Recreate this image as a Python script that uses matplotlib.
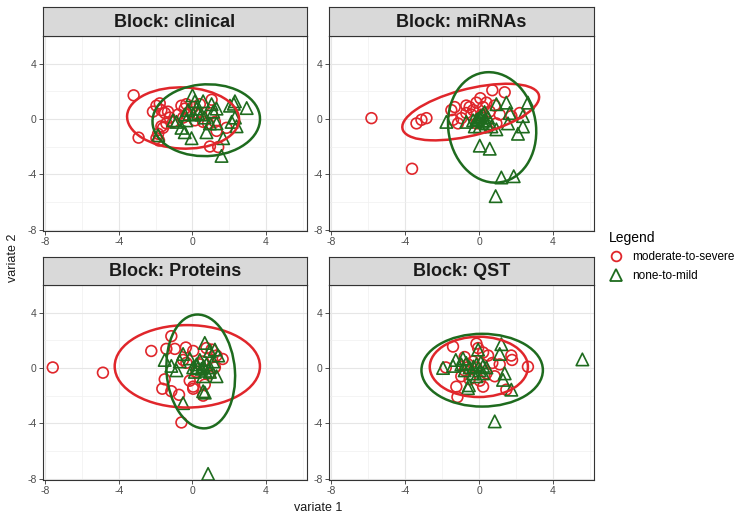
import matplotlib
matplotlib.use("Agg")
import matplotlib.pyplot as plt
from matplotlib.patches import Ellipse
from matplotlib.lines import Line2D

plt.rcParams['font.family'] = ['Liberation Sans', 'DejaVu Sans']
plt.rcParams['axes.unicode_minus'] = False

blocks = ["clinical", "miRNAs", "Proteins", "QST"]
groups = ["moderate-to-severe", "none-to-mild"]

# ---- data: (variate 1, variate 2) per block and group ----
clin_red_x = [-3.2, -2.93, -2.15, -1.96, -1.78, -1.69, -1.5, -1.33, -1.24, -1.42, -1.6, -1.87, -1.96, -1.82, -1.69, -1.05, -0.78, -0.6, -0.42, -0.33, -0.15, 0.04, 0.22, 0.4, 0.13, 0.58, 0.85, 1.04, 1.04, 1.22, 1.31, 0.95, 1.4, 1.85, -0.33, -0.51]
clin_red_y = [1.71, -1.35, 0.53, 0.96, 1.13, 0.64, 0.43, 0.53, 0.1, -0.32, -0.64, -1.07, -1.39, -1.56, -0.53, -0.21, 0.32, 0.96, 0.75, 0.32, 0.53, 0.86, 0.43, 1.07, -0.1, -0.21, -0.32, 1.39, 0.43, -0.21, -0.86, -1.99, -2.03, -0.64, 1.07, 0.1]
clin_grn_x = [0.0, 0.58, 1.04, 1.13, 1.31, 2.04, 2.31, 2.25, 2.95, 2.31, 2.4, 2.13, 1.67, 1.58, 0.76, -0.05, -0.42, -0.6, -0.87, -1.05, -0.33, 0.04, 0.31, 0.67, 0.95, 1.31, -0.24, -0.42, 0.22, 0.49, -1.87, 0.13]
clin_grn_y = [1.71, 1.28, 1.07, 0.53, 0.75, 0.96, 1.28, 1.1, 0.79, 0.1, -0.53, -0.21, -1.39, -2.67, -0.96, -1.39, -0.96, -0.64, -0.21, -0.1, -0.1, 0.32, 0.43, 0.1, -0.32, -0.32, 0.64, 0.32, 0.75, 0.32, -1.18, 1.28]

mir_red_x = [-5.83, -3.63, -3.39, -3.12, -2.85, -1.5, -1.32, -1.41, -1.14, -0.96, -0.69, -0.51, -0.32, -0.42, -0.14, 0.07, 0.22, 0.4, 0.72, 1.39, 0.85, 1.12, 1.75, 2.2, 0.94, 0.58, -0.14, -0.69, 0.13]
mir_red_y = [0.06, -3.6, -0.32, -0.06, 0.06, 0.64, 0.86, -0.06, -0.32, 0.06, 0.97, 0.86, 0.64, 0.32, 1.18, 1.5, 0.86, 1.18, 2.08, 1.93, 0.97, 0.32, 0.21, 0.43, -0.32, 0.54, -0.32, 0.43, 0.32]
mir_grn_x = [-1.77, -0.69, -0.23, 0.04, 0.4, 0.04, 0.22, -0.14, 0.31, 0.67, 0.94, 1.48, 0.94, 1.66, 1.57, 2.65, 2.38, 2.38, 2.11, 0.04, 0.58, 1.21, 1.88, 0.9, -0.32, 0.49, 0.1, 0.2, -0.05, 0.3]
mir_grn_y = [-0.21, -0.21, -0.54, -0.54, -0.32, 0.1, 0.32, -0.06, -0.1, -0.54, -0.75, 1.18, 1.07, 0.43, -0.32, 1.18, 0.21, -0.54, -1.07, -1.93, -2.15, -4.23, -4.14, -5.58, -0.1, 0.1, 0.2, -0.2, 0.0, 0.5]

prot_red_x = [-7.6, -4.87, -2.24, -1.42, -1.15, -0.96, -0.36, 0.04, -1.51, -1.64, -1.15, -0.73, -0.15, 0.04, 0.04, -0.6, 0.67, 0.58, 0.22, 0.76, 1.04, 1.31, 1.64, 0.58, -0.33, -0.51, 0.95, 1.22, 0.4]
prot_red_y = [0.04, -0.34, 1.23, 1.38, 2.3, 1.38, 1.48, 1.23, -0.82, -1.5, -1.68, -1.94, -0.92, -1.35, -1.5, -3.94, -1.2, -2.0, -0.28, 1.44, 1.33, 0.9, 0.65, 0.47, 0.37, 0.58, -0.39, 0.04, 0.26]
prot_grn_x = [-1.51, -0.87, -1.15, -0.51, 0.67, 0.95, 1.22, 1.4, 0.67, 0.58, 0.85, 1.31, 0.95, 0.58, 0.13, 0.22, 0.4, 0.76, 1.13, 0.04, 0.49, 0.95, -0.51, -0.15, -0.69, 0.3, 0.6, 0.7]
prot_grn_y = [0.58, -0.17, 0.15, -2.54, 1.81, 1.23, 1.33, 0.9, -1.78, -1.68, -7.66, -0.6, -0.28, -0.6, -0.28, 0.26, 0.58, 0.26, 0.47, 0.04, -0.06, 0.04, 1.01, 0.69, 0.47, 0.0, 0.1, -0.2]

qst_red_x = [-1.41, -1.8, -1.23, -1.17, -0.96, -0.78, -0.14, -0.05, 0.22, 0.49, 0.72, 0.85, 1.12, 1.75, 1.79, 2.65, 1.48, 0.22, 0.04, -0.51, -0.78, -0.32, -0.14, -0.6, 0.4]
qst_red_y = [1.55, 0.04, -1.35, -2.1, -0.6, -0.17, 1.76, 1.44, 1.12, 0.9, 0.36, -0.6, 0.26, 0.9, 0.58, 0.09, -1.57, -1.35, -0.92, -0.82, 0.79, 0.47, 0.04, 0.26, -0.39]
qst_grn_x = [-1.95, -1.41, -1.26, -0.96, -0.69, -0.6, -0.55, -0.14, 0.04, 0.22, 0.22, -0.32, 1.21, 1.12, 1.39, 1.3, 1.75, 0.85, 5.6, -0.05, -0.87, -0.78, -0.51, 0.4, -0.14, -0.3, 0.1]
qst_grn_y = [0.0, 0.15, 0.58, 0.26, 0.36, -1.46, -1.25, 0.26, -0.17, -0.39, 0.15, -0.39, 1.72, 1.01, -0.39, -0.86, -1.57, -3.86, 0.62, 1.33, 0.69, -0.17, 0.04, 0.04, -0.6, 0.1, 0.4]

# ---- confidence ellipses: centre x, centre y, semi-axis 1, semi-axis 2, angle (deg) ----
ell_red_cx = [-0.51, -0.45, -0.28, -0.01]
ell_red_cy = [0.07, 0.5, 0.12, 0.08]
ell_red_a = [3.05, 3.9, 3.95, 2.66]
ell_red_b = [2.21, 1.65, 2.98, 2.18]
ell_red_ang = [-4, 20, 0, 0]
ell_grn_cx = [0.75, 0.71, 0.45, 0.17]
ell_grn_cy = [-0.09, -0.61, -0.25, -0.16]
ell_grn_a = [2.93, 4.0, 4.12, 3.29]
ell_grn_b = [2.59, 2.38, 1.86, 2.63]
ell_grn_ang = [8, 94, 93, 0]

ticks = [-8, -4, 0, 4]
minor = [-6, -2, 2, 6]

red_pts = [(clin_red_x, clin_red_y), (mir_red_x, mir_red_y), (prot_red_x, prot_red_y), (qst_red_x, qst_red_y)]
grn_pts = [(clin_grn_x, clin_grn_y), (mir_grn_x, mir_grn_y), (prot_grn_x, prot_grn_y), (qst_grn_x, qst_grn_y)]

RED = '#E0262B'
GRN = '#1E6B1E'

W, H = 756, 513
fig = plt.figure(figsize=(W / 100, H / 100), dpi=100)

def fx(px):
    return px / W

def fy(py):
    return 1 - py / H

cols = [(43, 307), (329, 594)]
rows = [(7, 36, 231), (257, 285, 480)]

for i, name in enumerate(blocks):
    r, c = divmod(i, 2)
    x0, x1 = cols[c]
    st, pt, pb = rows[r]
    ax = fig.add_axes([fx(x0), fy(pb), fx(x1 - x0), (pb - pt) / H])
    ax.set_xlim(-8.13, 6.23)
    ax.set_ylim(-8.1, 4.43)
    ax.set_xticks(ticks)
    ax.set_yticks(ticks)
    ax.set_xticks(minor, minor=True)
    ax.set_yticks(minor, minor=True)
    ax.grid(which='major', color='#E6E6E6', lw=0.8)
    ax.grid(which='minor', color='#F0F0F0', lw=0.5)
    ax.set_axisbelow(True)
    ax.tick_params(which='minor', length=0)
    ax.tick_params(which='major', length=3, width=0.6, color='#333333',
                   labelsize=7.5, labelcolor='#4D4D4D', pad=1.5)
    for s in ax.spines.values():
        s.set_color('#333333')
        s.set_linewidth(0.8)

    rx, ry = red_pts[i]
    gx, gy = grn_pts[i]
    ax.scatter(rx, ry, s=60, marker='o', facecolors='none', edgecolors=RED, linewidths=1.2, zorder=3)
    ax.scatter(gx, gy, s=80, marker='^', facecolors='none', edgecolors=GRN, linewidths=1.2, zorder=3)

    ax.add_patch(Ellipse((ell_red_cx[i], ell_red_cy[i]), 2 * ell_red_a[i], 2 * ell_red_b[i],
                         angle=ell_red_ang[i], fill=False, edgecolor=RED, lw=1.8, zorder=4))
    ax.add_patch(Ellipse((ell_grn_cx[i], ell_grn_cy[i]), 2 * ell_grn_a[i], 2 * ell_grn_b[i],
                         angle=ell_grn_ang[i], fill=False, edgecolor=GRN, lw=1.8, zorder=4))

    sax = fig.add_axes([fx(x0), fy(pt), fx(x1 - x0), (pt - st) / H])
    sax.set_facecolor('#D9D9D9')
    sax.set_xticks([])
    sax.set_yticks([])
    for s in sax.spines.values():
        s.set_color('#333333')
        s.set_linewidth(0.8)
    sax.text(0.5, 0.48, f"Block: {name}", ha='center', va='center', fontsize=13,
             fontweight='bold', color='#1A1A1A', transform=sax.transAxes)

fig.text(fx(318), fy(508), "variate 1", ha='center', va='center', fontsize=9, color='#1A1A1A')
fig.text(fx(13), fy(258), "variate 2", ha='center', va='center', rotation=90, fontsize=9, color='#1A1A1A')

handles = [Line2D([], [], ls='none', marker='o', markersize=7, markerfacecolor='none',
                  markeredgecolor=RED, markeredgewidth=1.3),
           Line2D([], [], ls='none', marker='^', markersize=8, markerfacecolor='none',
                  markeredgecolor=GRN, markeredgewidth=1.3)]
leg = fig.legend(handles, groups, title="Legend", loc='upper left',
                 bbox_to_anchor=(fx(604), fy(226)), frameon=False, fontsize=8.5,
                 title_fontsize=10, handlelength=1.2, handletextpad=0.8,
                 labelspacing=0.55, borderaxespad=0)
leg._legend_box.align = "left"

fig.savefig("out.png", dpi=100)
